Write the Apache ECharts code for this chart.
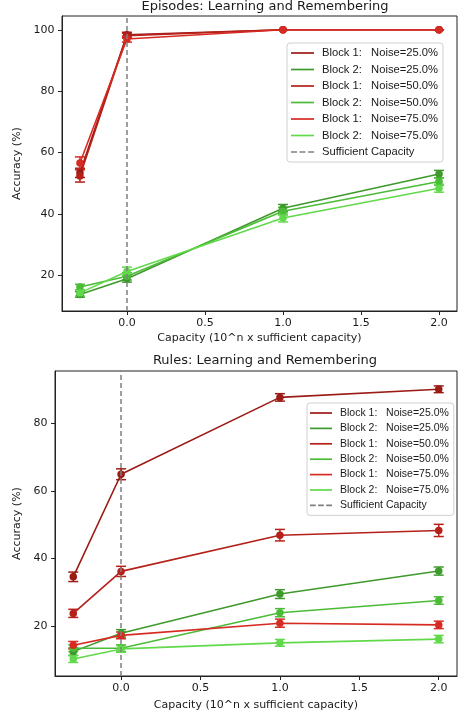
<!DOCTYPE html>
<html>
<head>
<meta charset="utf-8">
<script src="https://cdn.jsdelivr.net/npm/echarts@6/dist/echarts.min.js"></script>
<style>
html,body{margin:0;padding:0;background:#fff;}
#chart{width:458px;height:717px;}
</style>
</head>
<body>
<div id="chart"></div>
<script>
// ---- data ----
const capacity = [-0.301, 0, 1, 2];            // log10(capacity / sufficient capacity)
const seriesNames = [
  'Block 1:   Noise=25.0%', 'Block 2:   Noise=25.0%',
  'Block 1:   Noise=50.0%', 'Block 2:   Noise=50.0%',
  'Block 1:   Noise=75.0%', 'Block 2:   Noise=75.0%'
];
const refName = 'Sufficient Capacity';
const refX = 0;
const xTicks = [0, 0.5, 1, 1.5, 2];
const yTicksTop = [20, 40, 60, 80, 100];
const yTicksBottom = [20, 40, 60, 80];

// Episodes: Learning and Remembering
const epB1N25 = [53.4, 98.4, 100, 100];
const epB2N25 = [13.8, 18.9, 41.9, 53.0];
const epB1N50 = [52.4, 98.1, 100, 100];
const epB2N50 = [16.2, 19.7, 40.9, 50.6];
const epB1N75 = [56.6, 97.0, 100, 100];
const epB2N75 = [14.3, 21.3, 38.7, 48.4];
const epErrB1N25 = [1.5, 0.8, 0, 0];
const epErrB2N25 = [0.9, 1.1, 1.2, 1.2];
const epErrB1N50 = [2.0, 0.8, 0, 0];
const epErrB2N50 = [0.9, 1.2, 1.2, 1.2];
const epErrB1N75 = [2.0, 1.0, 0, 0];
const epErrB2N75 = [1.0, 1.4, 1.3, 1.3];

// Rules: Learning and Remembering
const ruB1N25 = [34.6, 64.9, 87.6, 90.0];
const ruB2N25 = [12.5, 17.9, 29.5, 36.3];
const ruB1N50 = [23.8, 36.2, 46.9, 48.3];
const ruB2N50 = [13.5, 13.5, 24.0, 27.6];
const ruB1N75 = [14.4, 17.3, 20.9, 20.4];
const ruB2N75 = [10.3, 13.3, 15.1, 16.2];
const ruErrB1N25 = [1.4, 1.6, 1.1, 1.0];
const ruErrB2N25 = [1.1, 1.1, 1.3, 1.2];
const ruErrB1N50 = [1.2, 1.5, 1.7, 1.8];
const ruErrB2N50 = [1.0, 1.0, 1.2, 1.1];
const ruErrB1N75 = [1.1, 1.0, 1.2, 1.1];
const ruErrB2N75 = [1.0, 1.0, 1.0, 1.1];

// ---- style ----
const colors = ['#9b1b15', '#3d9a2b', '#b52119', '#4cbb38', '#d62b22', '#62d94b'];
const FONT = 'DejaVu Sans';
const LFONT = 'Liberation Sans';
const TXT = '#1a1a1a';

const epValues = [epB1N25, epB2N25, epB1N50, epB2N50, epB1N75, epB2N75];
const epErrs = [epErrB1N25, epErrB2N25, epErrB1N50, epErrB2N50, epErrB1N75, epErrB2N75];
const ruValues = [ruB1N25, ruB2N25, ruB1N50, ruB2N50, ruB1N75, ruB2N75];
const ruErrs = [ruErrB1N25, ruErrB2N25, ruErrB1N50, ruErrB2N50, ruErrB1N75, ruErrB2N75];

function errRender(color) {
  return function (params, api) {
    const x = api.value(0), lo = api.value(1), hi = api.value(2);
    const p1 = api.coord([x, lo]), p2 = api.coord([x, hi]);
    const c = 5;
    const st = { stroke: color, lineWidth: 1.5 };
    return {
      type: 'group', children: [
        { type: 'line', shape: { x1: p1[0], y1: p1[1], x2: p2[0], y2: p2[1] }, style: st },
        { type: 'line', shape: { x1: p1[0] - c, y1: p1[1], x2: p1[0] + c, y2: p1[1] }, style: st },
        { type: 'line', shape: { x1: p2[0] - c, y1: p2[1], x2: p2[0] + c, y2: p2[1] }, style: st }
      ]
    };
  };
}

const series = [];
function addPanel(values, errs, idx) {
  series.push({
    type: 'line', name: refName,
    xAxisIndex: idx, yAxisIndex: idx,
    data: [],
    itemStyle: { color: '#808080' },
    lineStyle: { color: '#808080', type: [5, 3], width: 1.5 },
    markLine: {
      silent: true, symbol: ['none', 'none'], label: { show: false },
      lineStyle: { color: '#808080', type: [5, 3], width: 1.5 },
      emphasis: { disabled: true },
      data: [{ xAxis: refX }]
    },
    z: 1
  });
  values.forEach((vals, i) => {
    series.push({
      type: 'custom', name: 'err' + idx + '_' + i,
      xAxisIndex: idx, yAxisIndex: idx,
      renderItem: errRender(colors[i]),
      encode: { x: 0, y: [1, 2] },
      data: capacity.map((x, k) => [x, vals[k] - errs[i][k], vals[k] + errs[i][k]]),
      z: 2, silent: true
    });
    series.push({
      type: 'line', name: seriesNames[i],
      xAxisIndex: idx, yAxisIndex: idx,
      data: capacity.map((x, k) => [x, vals[k]]),
      symbol: 'circle', symbolSize: 7.5, showSymbol: true,
      itemStyle: { color: colors[i], borderWidth: 0 },
      lineStyle: { color: colors[i], width: 1.6 },
      z: 3, silent: true
    });
  });
}
addPanel(epValues, epErrs, 0);
addPanel(ruValues, ruErrs, 1);

const xMin = -0.416, xMax = 2.115;

function xAxis(gridIndex, nameGap) {
  return {
    type: 'value', gridIndex, min: xMin, max: xMax,
    name: 'Capacity (10^n x sufficient capacity)', nameLocation: 'middle', nameGap,
    nameTextStyle: { fontFamily: FONT, fontSize: 11, color: TXT },
    axisLine: { show: true, onZero: false, lineStyle: { color: '#222', width: 1 } },
    axisTick: { show: true, length: 4, customValues: xTicks, lineStyle: { color: '#222' } },
    axisLabel: { customValues: xTicks, margin: 7, fontFamily: FONT, fontSize: 11, color: TXT,
      formatter: v => v.toFixed(1) },
    splitLine: { show: false }
  };
}
function yAxis(gridIndex, min, max, ticks, nameGap) {
  return {
    type: 'value', gridIndex, min, max,
    name: 'Accuracy (%)', nameLocation: 'middle', nameGap,
    nameTextStyle: { fontFamily: FONT, fontSize: 11, color: TXT },
    axisLine: { show: true, onZero: false, lineStyle: { color: '#222', width: 1 } },
    axisTick: { show: true, length: 4, customValues: ticks, lineStyle: { color: '#222' } },
    axisLabel: { customValues: ticks, margin: 7.5, fontFamily: FONT, fontSize: 11, color: TXT,
      formatter: v => String(Math.round(v)) },
    splitLine: { show: false }
  };
}

function legendData() {
  return seriesNames.map(n => ({ name: n, icon: 'rect' })).concat([
    { name: refName, icon: 'path://M0,0h6v2h-6z M8.5,0h6v2h-6z M17,0h6v2h-6z' }
  ]);
}

const option = {
  animation: false,
  backgroundColor: '#fff',
  title: [
    { text: 'Episodes: Learning and Remembering', left: 260, top: -5, textAlign: 'center',
      textStyle: { fontFamily: FONT, fontSize: 13, fontWeight: 'normal', color: TXT } },
    { text: 'Rules: Learning and Remembering', left: 260, top: 349, textAlign: 'center',
      textStyle: { fontFamily: FONT, fontSize: 13, fontWeight: 'normal', color: TXT } }
  ],
  grid: [
    { left: 62, top: 16, right: 1, height: 295, show: true, borderColor: '#222', borderWidth: 1, backgroundColor: 'transparent' },
    { left: 55, top: 371, right: 1, height: 305, show: true, borderColor: '#222', borderWidth: 1, backgroundColor: 'transparent' }
  ],
  xAxis: [xAxis(0, 22), xAxis(1, 24)],
  yAxis: [yAxis(0, 8.4, 104.5, yTicksTop, 27), yAxis(1, 5.3, 95.4, yTicksBottom, 24)],
  legend: [
    {
      orient: 'vertical', left: 287, top: 43,
      padding: [3, 5, 3, 4], itemGap: 2.5, itemWidth: 23, itemHeight: 1.7,
      symbolKeepAspect: false,
      backgroundColor: '#fff', borderColor: '#d0d0d0', borderWidth: 1, borderRadius: 3,
      itemStyle: { borderWidth: 0 },
      textStyle: { fontFamily: LFONT, fontSize: 11.2, color: TXT, lineHeight: 14, padding: [0, 0, 0, 3] },
      data: legendData(), selectedMode: false
    },
    {
      orient: 'vertical', left: 307, top: 403,
      padding: [3.5, 5, 3.5, 3], itemGap: 2.4, itemWidth: 22, itemHeight: 1.7,
      symbolKeepAspect: false,
      backgroundColor: '#fff', borderColor: '#d0d0d0', borderWidth: 1, borderRadius: 3,
      itemStyle: { borderWidth: 0 },
      textStyle: { fontFamily: LFONT, fontSize: 10.5, color: TXT, lineHeight: 13, padding: [0, 0, 0, 3] },
      data: legendData(), selectedMode: false
    }
  ],
  series
};

const chart = echarts.init(document.getElementById('chart'), null, { renderer: 'canvas' });
chart.setOption(option);
</script>
</body>
</html>
